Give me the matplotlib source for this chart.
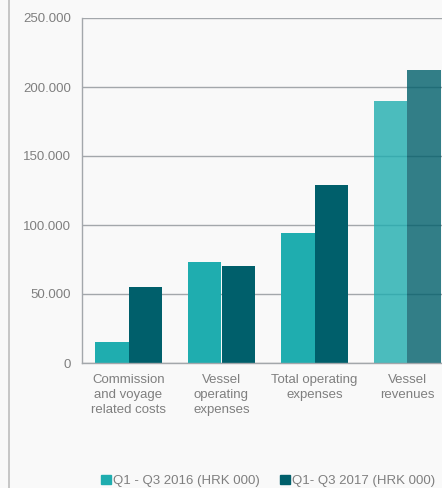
import numpy as np
import matplotlib.pyplot as plt
from matplotlib.lines import Line2D
from matplotlib.patches import Patch

# Podaci (HRK 000)
categories = ['Commission\nand voyage\nrelated costs', 'Vessel\noperating\nexpenses',
              'Total operating\nexpenses', 'Vessel\nrevenues']
q2016 = [15200, 73200, 94200, 189900]
q2017 = [55000, 70300, 129000, 212300]
series_names = ['Q1 - Q3 2016 (HRK 000)', 'Q1- Q3 2017 (HRK 000)']
yticks = [0, 50000, 100000, 150000, 200000, 250000]
ytick_labels = ['0', '50.000', '100.000', '150.000', '200.000', '250.000']

c_light = '#1fadaf'
c_dark = '#005f6b'
txt = '#7f7f7f'
bg = '#f9f9f9'

plt.rcParams['font.family'] = ['Liberation Sans', 'DejaVu Sans']

fig = plt.figure(figsize=(4.42, 4.88), dpi=100, facecolor=bg)
ax = fig.add_axes([82/442, 1 - 363/488, 372/442, 345/488])
ax.set_facecolor(bg)

x = np.arange(len(categories))
w = 0.355
alphas = [1, 1, 1, 0.8]
for i in x:
    ax.bar(i - w/2, q2016[i], w, color=c_light, alpha=alphas[i], zorder=2, linewidth=0)
    ax.bar(i + w/2, q2017[i], w, color=c_dark, alpha=alphas[i], zorder=2, linewidth=0)

ax.set_xlim(-0.5, 3.5)
ax.set_ylim(0, 250000)
ax.set_yticks(yticks)
ax.set_yticklabels(ytick_labels, fontsize=9.5, color=txt)
ax.set_xticks(x)
ax.set_xticklabels(categories, fontsize=9.5, color=txt, linespacing=1.32)
ax.tick_params(axis='both', length=0)
ax.tick_params(axis='y', pad=8)
ax.tick_params(axis='x', pad=8)
ax.yaxis.grid(True, color='#a3a7ab', linewidth=1, zorder=1)
for s in ['top', 'right']:
    ax.spines[s].set_visible(False)
ax.spines['left'].set_color('#a3a7ab')
ax.spines['bottom'].set_color('#a3a7ab')
ax.spines['left'].set_linewidth(1)
ax.spines['bottom'].set_linewidth(1)

# linea verticale a sinistra
fig.add_artist(Line2D([9/442, 9/442], [0, 1], color='#bdbdbd', linewidth=1.2))

handles = [Patch(color=c_light), Patch(color=c_dark)]
fig.legend(handles, series_names, loc='center', bbox_to_anchor=(268/442, 1 - 481/488),
           ncol=2, frameon=False, fontsize=9.5, labelcolor=txt, handlelength=0.7,
           handleheight=0.7, handletextpad=0.15, columnspacing=1.6)

plt.savefig('out.png', dpi=100, facecolor=bg)
